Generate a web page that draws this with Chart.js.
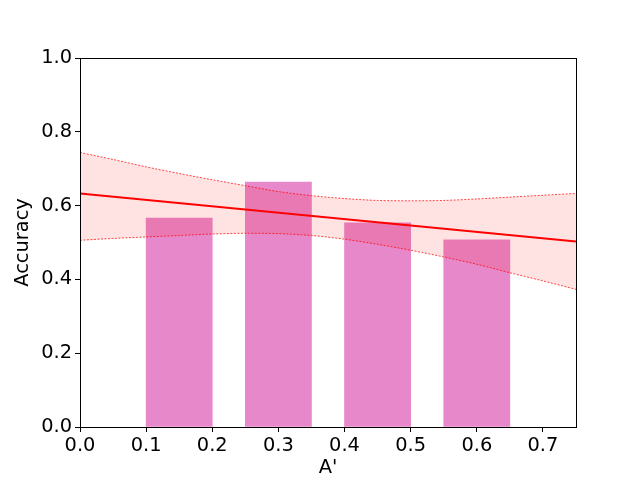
<!DOCTYPE html>
<html>
<head>
<meta charset="utf-8">
<script src="https://cdn.jsdelivr.net/npm/chart.js@4/dist/chart.umd.min.js"></script>
<style>
  html, body { margin: 0; padding: 0; background: #fff; }
  #wrap { width: 640px; height: 480px; }
</style>
</head>
<body>
<div id="wrap"><canvas id="chart" width="640" height="480"></canvas></div>
<script>
// --- Data ---
const barCenters = [0.15, 0.30, 0.45, 0.60];
const barValues = [0.566, 0.664, 0.553, 0.507];

const fitX = [0, 0.75];
const fitY = [0.633, 0.503];

const ciX = [0, 0.05, 0.10, 0.15, 0.20, 0.25, 0.30, 0.35, 0.40, 0.45, 0.50, 0.55, 0.60, 0.65, 0.70, 0.75];
const ciUpper = [0.744, 0.725, 0.705, 0.687, 0.670, 0.654, 0.638, 0.627, 0.619, 0.614, 0.613, 0.614, 0.618, 0.623, 0.628, 0.633];
const ciLower = [0.506, 0.511, 0.515, 0.519, 0.523, 0.525, 0.524, 0.519, 0.509, 0.495, 0.479, 0.461, 0.441, 0.418, 0.396, 0.373];

const xTicks = [0, 0.1, 0.2, 0.3, 0.4, 0.5, 0.6, 0.7];
const yTicks = [0, 0.2, 0.4, 0.6, 0.8, 1.0];

const FONT = 'DejaVu Sans';
const FS = 19.4;
Chart.defaults.color = '#000';
Chart.defaults.font.family = FONT;
Chart.defaults.font.size = FS;

const pairs = (xs, ys) => xs.map((x, i) => ({ x: x, y: ys[i] }));

// draws the full axes box like matplotlib
const frameBox = {
    id: 'frameBox',
    afterDraw(chart) {
        const { ctx, chartArea: a } = chart;
        ctx.save();
        ctx.strokeStyle = '#000';
        ctx.lineWidth = 1;
        ctx.strokeRect(Math.round(a.left) + 0.5, Math.round(a.top) + 0.5,
            Math.round(a.right - a.left), Math.round(a.bottom - a.top));
        ctx.restore();
    }
};

new Chart(document.getElementById('chart').getContext('2d'), {
    type: 'bar',
    data: {
        datasets: [
            {
                type: 'line',
                label: 'fit',
                data: pairs(fitX, fitY),
                borderColor: '#ff0000',
                borderWidth: 2,
                pointRadius: 0,
                fill: false,
                order: 1
            },
            {
                type: 'line',
                label: 'ci upper',
                data: pairs(ciX, ciUpper),
                borderColor: 'rgba(255,0,0,0.9)',
                borderWidth: 0.8,
                borderDash: [2, 1.5],
                pointRadius: 0,
                tension: 0.3,
                fill: '+1',
                backgroundColor: 'rgba(255,0,0,0.11)',
                order: 2
            },
            {
                type: 'line',
                label: 'ci lower',
                data: pairs(ciX, ciLower),
                borderColor: 'rgba(255,0,0,0.9)',
                borderWidth: 0.8,
                borderDash: [2, 1.5],
                pointRadius: 0,
                tension: 0.3,
                fill: false,
                order: 2
            },
            {
                type: 'bar',
                label: 'accuracy',
                data: pairs(barCenters, barValues),
                backgroundColor: 'rgba(227,119,194,0.88)',
                borderWidth: 0,
                barPercentage: 1,
                categoryPercentage: 1,
                order: 3
            }
        ]
    },
    options: {
        responsive: false,
        animation: false,
        layout: { padding: { top: 58, right: 64, left: 0, bottom: 0 } },
        plugins: {
            legend: { display: false },
            tooltip: { enabled: false }
        },
        scales: {
            x: {
                type: 'linear',
                min: 0,
                max: 0.75,
                offset: false,
                afterBuildTicks: (s) => { s.ticks = xTicks.map(v => ({ value: v })); },
                afterFit: (s) => { s.height = 53; },
                grid: { drawOnChartArea: false, drawTicks: true, tickLength: 5, color: '#000', offset: false },
                border: { display: false },
                ticks: { padding: 2, callback: v => v.toFixed(1) },
                title: { display: true, text: "A'", padding: { top: 0, bottom: 0 } }
            },
            y: {
                min: 0,
                max: 1,
                afterBuildTicks: (s) => { s.ticks = yTicks.map(v => ({ value: v })); },
                afterFit: (s) => { s.width = 80; },
                grid: { drawOnChartArea: false, drawTicks: true, tickLength: 5, color: '#000' },
                border: { display: false },
                ticks: { padding: 3, callback: v => v.toFixed(1) },
                title: { display: true, text: 'Accuracy', padding: { top: 11, bottom: 0 } }
            }
        }
    },
    plugins: [frameBox]
});
</script>
</body>
</html>
